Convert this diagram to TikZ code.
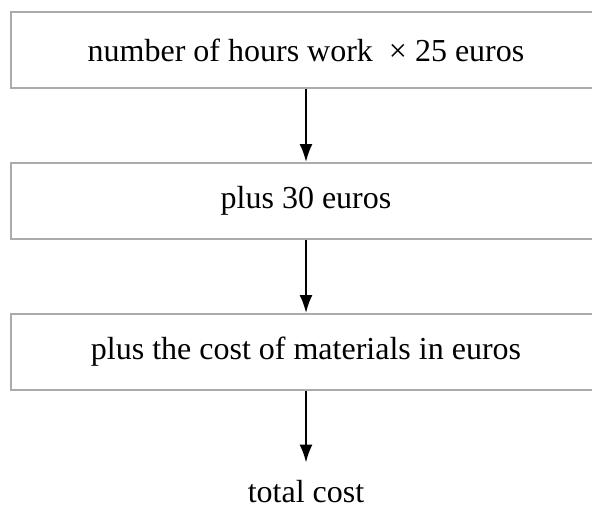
\documentclass[tikz,border=0pt]{standalone}
\usepackage{fontspec}
\setmainfont{Liberation Serif}
\usetikzlibrary{arrows.meta}

\tikzset{
    stepbox/.style={draw=black!33, line width=2pt, minimum width=590pt, minimum height=76pt,
        inner sep=0pt, font=\fontsize{32}{38}\selectfont},
    flowarrow/.style={line width=2pt, -{Latex[length=18pt,width=13pt]}}
}

\begin{document}
\begin{tikzpicture}[x=1pt,y=-1pt]
    \useasboundingbox (0,0) rectangle (592,507);
    \node[stepbox] (hours) at (306,50) {number of hours work~ × 25 euros}; % Cost steps
    \node[stepbox] (fixed) at (306,201) {plus 30 euros};
    \node[stepbox] (materials) at (306,352) {plus the cost of materials in euros};
    \node[anchor=base, inner sep=0pt, font=\fontsize{32}{38}\selectfont] (total) at (306,502) {total cost};
    \draw[flowarrow] (hours.south) -- (fixed.north);
    \draw[flowarrow] (fixed.south) -- (materials.north);
    \draw[flowarrow, shorten >=17pt] (materials.south) -- (total.north);
\end{tikzpicture}
\end{document}
